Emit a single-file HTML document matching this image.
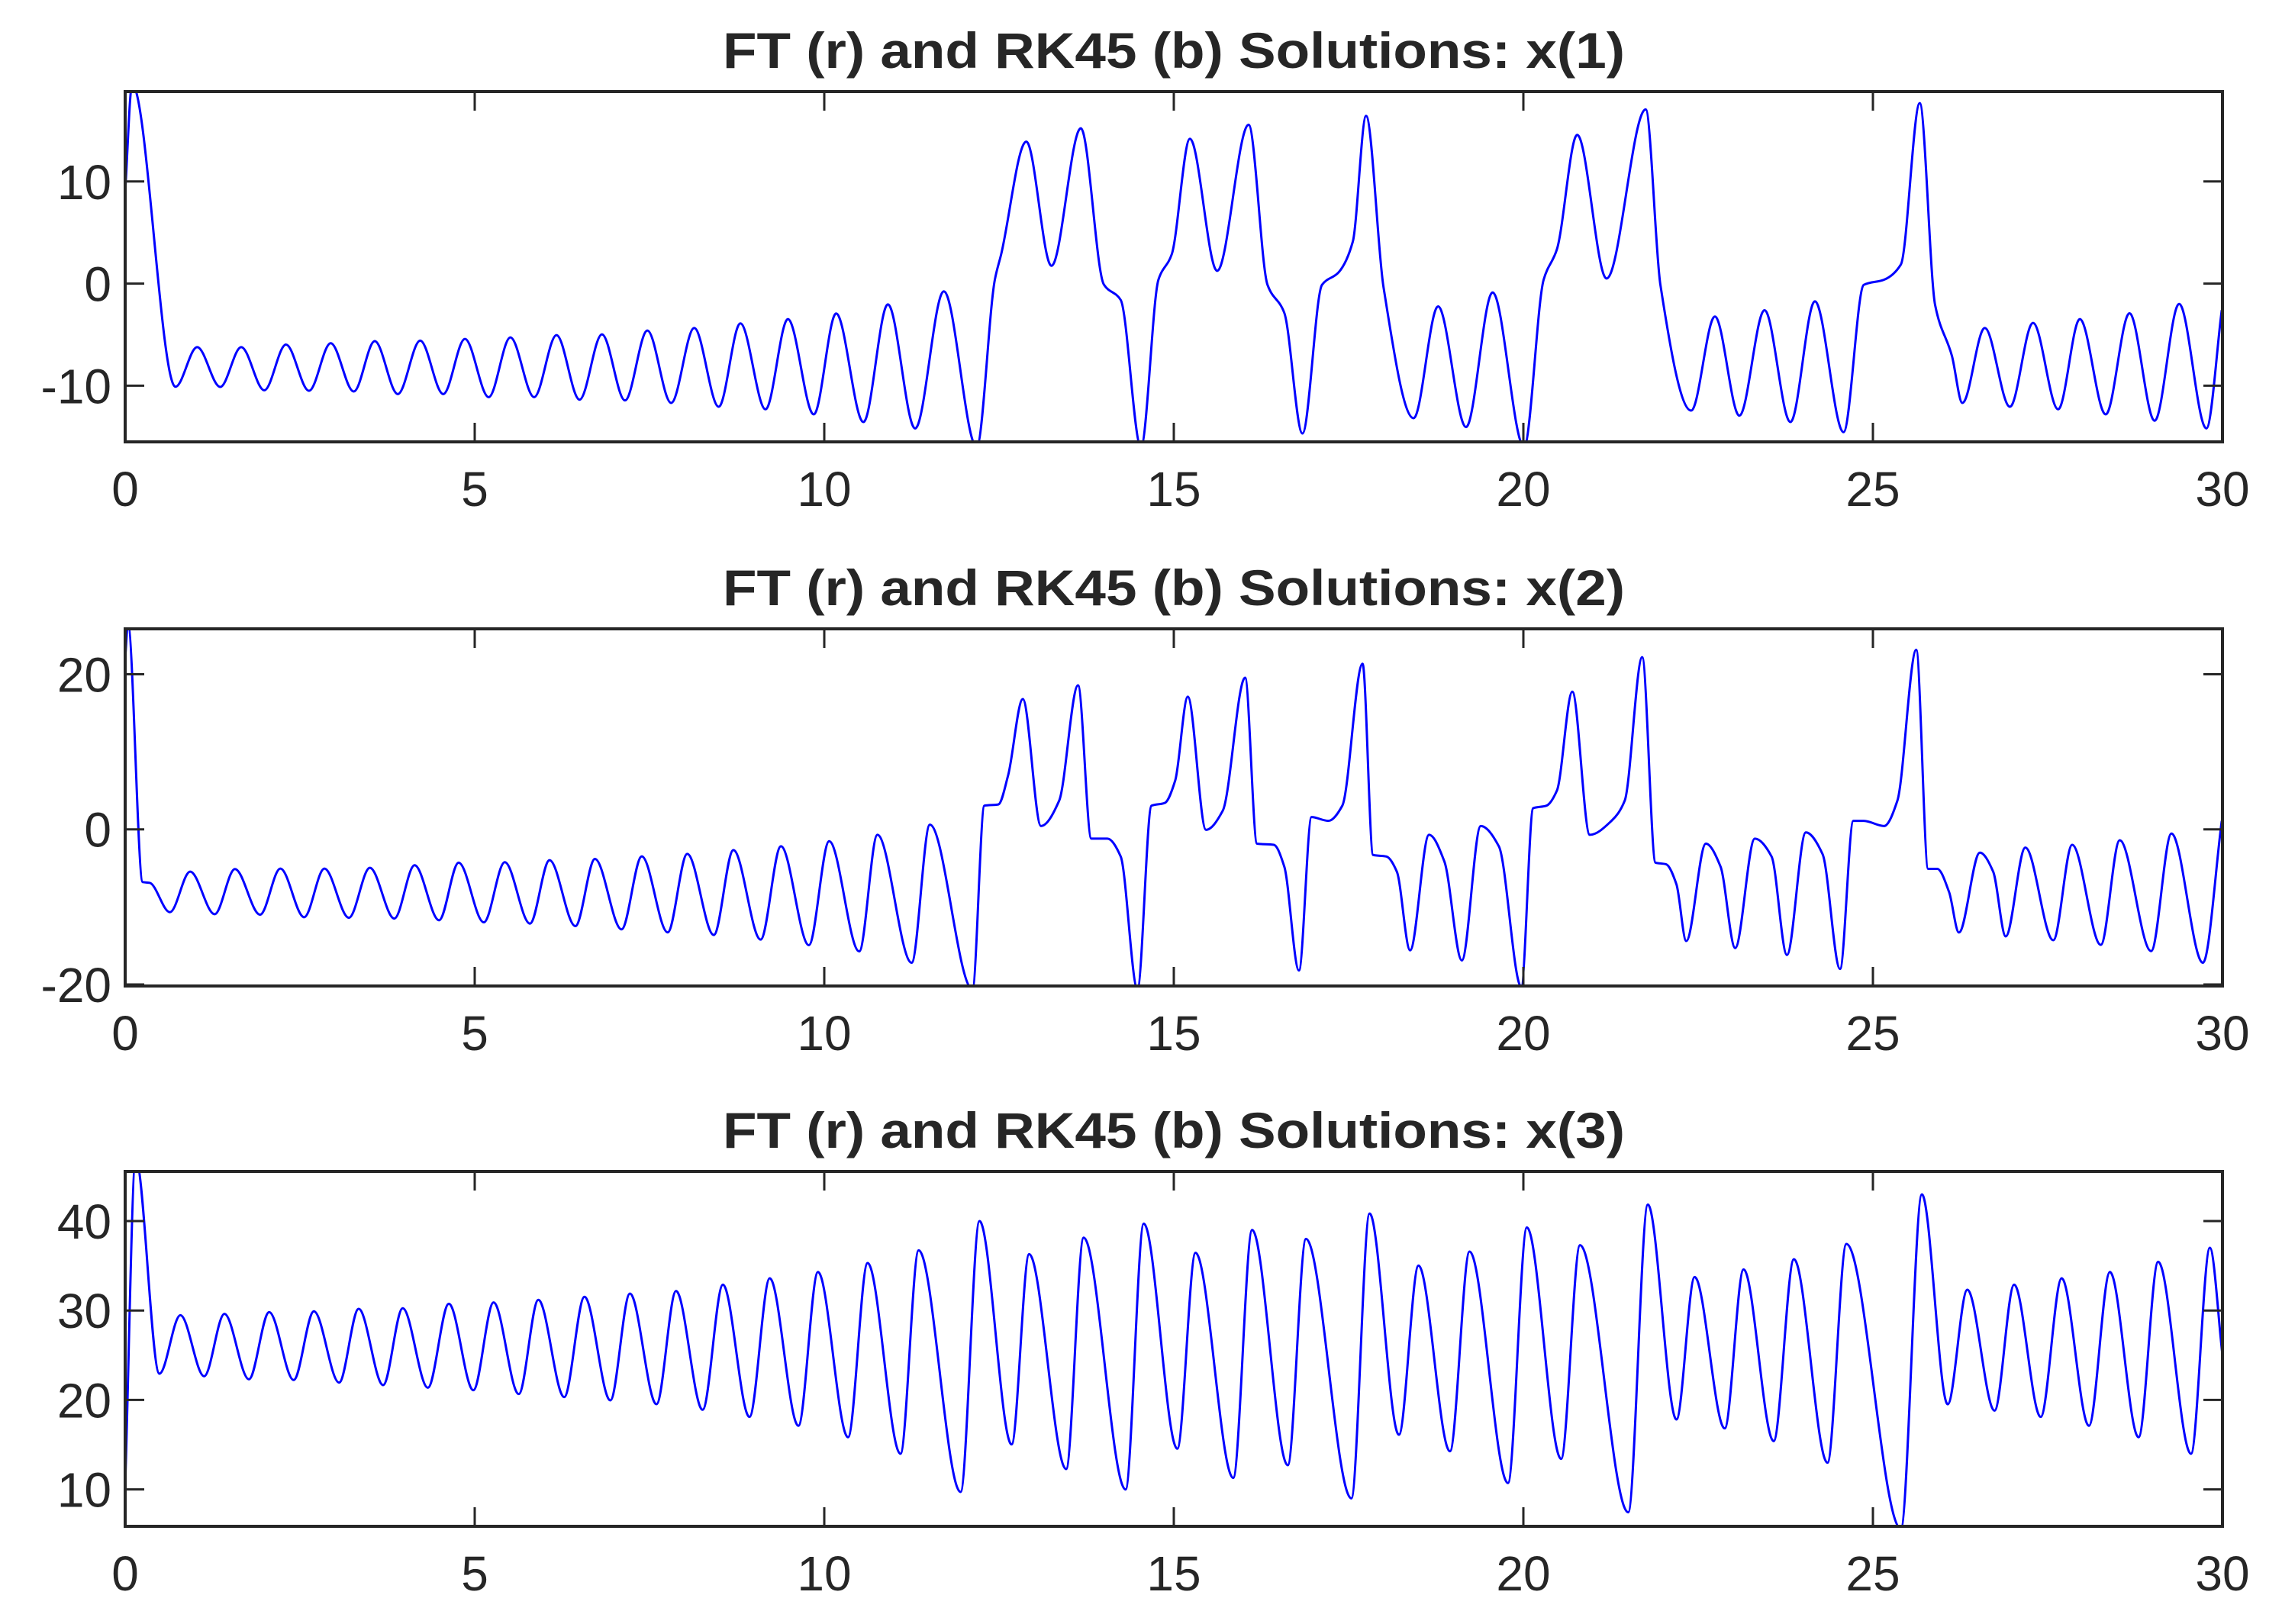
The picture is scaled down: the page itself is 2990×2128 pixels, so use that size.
<!DOCTYPE html>
<html><head><meta charset="utf-8"><style>
html,body{margin:0;padding:0;background:#fff;}
svg{display:block;}
text{font-family:"Liberation Sans",Arial,sans-serif;fill:#262626;}
</style></head><body>
<svg id="fig" width="2990" height="2128" viewBox="0 0 2990 2128" xmlns="http://www.w3.org/2000/svg"></svg>
<script>
// ---- data: x(1) ----
const times1 = [0,0.1,0.72,1.03,1.36,1.66,1.99,2.30,2.63,2.94,3.27,3.57,3.90,4.22,4.55,4.86,5.20,5.51,5.85,6.17,6.50,6.82,7.15,7.47,7.81,8.14,8.49,8.80,9.16,9.48,9.85,10.17,10.56,10.91,11.30,11.71,12.18,12.44,12.53,12.89,13.25,13.67,14.0,14.24,14.53,14.78,14.97,15.23,15.62,16.07,16.34,16.58,16.84,17.12,17.36,17.56,17.75,18.0,18.43,18.78,19.18,19.56,20.01,20.29,20.48,20.77,21.19,21.75,21.96,22.4,22.74,23.09,23.45,23.82,24.17,24.58,24.87,25.16,25.4,25.67,25.89,26.13,26.28,26.6,26.96,27.29,27.65,27.96,28.33,28.67,29.03,29.38,29.77,29.99];
const values1 = [9,19.5,-10.1,-6.22,-10.12,-6.22,-10.45,-5.97,-10.5,-5.84,-10.57,-5.64,-10.82,-5.59,-10.82,-5.42,-11.12,-5.27,-11.12,-5.05,-11.37,-4.97,-11.44,-4.6,-11.69,-4.35,-12.06,-3.9,-12.31,-3.48,-12.81,-2.93,-13.56,-2.04,-14.18,-0.76,-16,0.38,2.86,13.9,1.74,15.2,-0.1,-1.6,-16,0.38,2.86,14.18,1.25,15.55,-0.12,-2.86,-14.68,-0.12,1.12,4.1,16.42,-0.37,-13.18,-2.24,-14.05,-0.87,-16,0.38,3.36,14.56,0.5,17.05,-0.12,-12.44,-3.23,-12.93,-2.61,-13.56,-1.74,-14.55,-0.12,0.38,1.87,17.67,-2.11,-7.08,-11.69,-4.35,-12.06,-3.85,-12.31,-3.48,-12.81,-2.91,-13.43,-1.99,-14.18,-2.6];
// ---- data: x(2) ----
const times2 = [0,0.04,0.25,0.35,0.64,0.93,1.28,1.57,1.93,2.22,2.56,2.85,3.2,3.5,3.85,4.14,4.49,4.77,5.13,5.43,5.79,6.07,6.44,6.72,7.10,7.39,7.76,8.04,8.42,8.7,9.09,9.38,9.78,10.07,10.5,10.76,11.25,11.51,12.12,12.29,12.49,12.63,12.84,13.1,13.36,13.63,13.82,14.05,14.24,14.48,14.68,14.87,15.02,15.2,15.46,15.7,16.02,16.19,16.43,16.58,16.79,16.97,17.21,17.41,17.7,17.85,18.04,18.19,18.38,18.65,18.87,19.12,19.39,19.65,19.97,20.14,20.33,20.48,20.7,20.95,21.26,21.45,21.7,21.89,22.04,22.19,22.33,22.61,22.82,23.03,23.31,23.55,23.77,24.04,24.28,24.53,24.72,24.87,25.16,25.35,25.62,25.79,25.92,26.09,26.23,26.53,26.72,26.9,27.18,27.58,27.85,28.26,28.53,28.98,29.27,29.72,29.99];
const values2 = [22,26.5,-6.8,-6.9,-10.68,-5.45,-10.94,-5.12,-11.0,-5.06,-11.33,-5.06,-11.4,-4.96,-11.5,-4.63,-11.72,-4.3,-11.99,-4.24,-12.15,-3.98,-12.48,-3.82,-12.9,-3.49,-13.29,-3.16,-13.62,-2.67,-14.21,-2.18,-14.93,-1.53,-15.74,-0.71,-17.2,0.6,-20.6,3.05,3.21,6.97,16.8,0.43,3.7,18.57,-1.2,-1.2,-3.5,-20.6,3.05,3.4,6.3,17.1,-0.06,2.4,19.55,-1.85,-2.0,-4.8,-18.2,1.58,1.09,3.05,21.35,-3.3,-3.5,-5.45,-15.6,-0.71,-4.14,-16.9,0.43,-2.2,-20.3,2.72,3.05,5.0,17.75,-0.71,1.09,3.7,22.2,-4.3,-4.5,-7.1,-14.4,-1.85,-4.8,-15.3,-1.2,-3.5,-16.2,-0.4,-3.2,-18.0,1.09,1.09,0.43,3.7,23.15,-5.1,-5.1,-8.1,-13.3,-3.0,-5.45,-13.8,-2.35,-14.3,-2.0,-14.9,-1.4,-15.7,-0.55,-17.2,1.1];
// ---- data: x(3) ----
const times3 = [0,0.15,0.49,0.79,1.13,1.42,1.77,2.06,2.41,2.7,3.06,3.34,3.69,3.97,4.33,4.63,4.98,5.27,5.63,5.91,6.28,6.57,6.94,7.22,7.6,7.88,8.26,8.55,8.93,9.22,9.63,9.91,10.34,10.62,11.09,11.35,11.95,12.22,12.68,12.93,13.46,13.71,14.31,14.57,15.05,15.31,15.85,16.12,16.63,16.89,17.54,17.8,18.22,18.5,18.95,19.23,19.78,20.05,20.54,20.81,21.5,21.78,22.19,22.45,22.88,23.15,23.58,23.87,24.35,24.62,25.4,25.7,26.07,26.35,26.74,27.02,27.4,27.7,28.09,28.39,28.8,29.08,29.55,29.82,30];
const values3 = [10.4,47,22.94,29.48,22.65,29.62,22.31,29.82,22.23,29.91,21.94,30.19,21.66,30.25,21.37,30.76,21.09,30.9,20.66,31.19,20.32,31.53,19.95,31.9,19.52,32.18,18.9,32.89,18.1,33.6,17.11,34.31,15.83,35.31,13.98,36.73,9.71,40.0,15.03,36.3,12.27,38.15,9.99,39.72,14.55,36.45,11.28,39.01,12.7,38.01,9.0,40.85,16.11,35.02,14.26,36.59,10.71,39.29,13.41,37.3,7.44,41.85,17.82,33.74,16.82,34.6,15.4,35.74,12.98,37.44,5.6,42.99,19.52,32.32,18.81,32.89,18.1,33.6,17.11,34.31,15.83,35.45,13.98,37.02,25];
// ---- axis config ----
const xTicks = [0,5,10,15,20,25,30];
const yTicks1 = [-10,0,10];
const yTicks2 = [-20,0,20];
const yTicks3 = [10,20,30,40];
const titles = ["FT (r) and RK45 (b) Solutions: x(1)","FT (r) and RK45 (b) Solutions: x(2)","FT (r) and RK45 (b) Solutions: x(3)"];

const NS = "http://www.w3.org/2000/svg";
const svg = document.getElementById('fig');
function mk(tag, attrs, parent){
  const e = document.createElementNS(NS, tag);
  for (const k in attrs) e.setAttribute(k, attrs[k]);
  (parent||svg).appendChild(e);
  return e;
}
const X0 = 164, X1 = 2912;
const panels = [
  {top:120, bottom:579, ymin:-15.5, ymax:18.8, t:times1, v:values1, ticks:yTicks1},
  {top:824, bottom:1292, ymin:-20.2, ymax:25.85, t:times2, v:values2, ticks:yTicks2},
  {top:1535, bottom:2000, ymin:5.87, ymax:45.55, t:times3, v:values3, ticks:yTicks3}
];

function monotonePath(ts, vs, sx, sy){
  const n = ts.length, d = [], m = new Array(n);
  for (let i=0;i<n-1;i++) d.push((vs[i+1]-vs[i])/(ts[i+1]-ts[i]));
  m[0]=d[0]; m[n-1]=d[n-2];
  for (let i=1;i<n-1;i++){
    if (d[i-1]*d[i] <= 0) m[i]=0;
    else { const h0=ts[i]-ts[i-1], h1=ts[i+1]-ts[i];
      const w1=2*h1+h0, w2=h1+2*h0; m[i]=(w1+w2)/(w1/d[i-1]+w2/d[i]); }
  }
  let p = "M"+sx(ts[0]).toFixed(2)+","+sy(vs[0]).toFixed(2);
  for (let i=0;i<n-1;i++){
    const h=ts[i+1]-ts[i];
    p += " C"+sx(ts[i]+h/3).toFixed(2)+","+sy(vs[i]+m[i]*h/3).toFixed(2)+" "+
         sx(ts[i+1]-h/3).toFixed(2)+","+sy(vs[i+1]-m[i+1]*h/3).toFixed(2)+" "+
         sx(ts[i+1]).toFixed(2)+","+sy(vs[i+1]).toFixed(2);
  }
  return p;
}

panels.forEach((P, k) => {
  const sx = t => X0 + (t-0)/(30-0)*(X1-X0);
  const sy = v => P.bottom - (v-P.ymin)/(P.ymax-P.ymin)*(P.bottom-P.top);
  const g = mk('g', {});
  
  
  const cp = mk('clipPath', {id:'clip'+k}, g);
  mk('rect', {x:X0, y:P.top, width:X1-X0, height:P.bottom-P.top}, cp);
  mk('rect', {x:X0, y:P.top, width:X1-X0, height:P.bottom-P.top, fill:'#fff'}, g);
  // line
  const line = mk('path', {d:monotonePath(P.t, P.v, sx, sy), fill:'none', stroke:'#0000ff', 'stroke-width':3, 'clip-path':'url(#clip'+k+')', 'stroke-linejoin':'round'}, g);
  
  
  // frame
  const fr = mk('rect', {x:X0, y:P.top, width:X1-X0, height:P.bottom-P.top, fill:'none', stroke:'#262626', 'stroke-width':4}, g);
  
  
  // x ticks
  xTicks.forEach(xt => {
    const x = sx(xt);
    mk('line', {x1:x, x2:x, y1:P.bottom, y2:P.bottom-25, stroke:'#262626', 'stroke-width':3}, g);
    mk('line', {x1:x, x2:x, y1:P.top, y2:P.top+25, stroke:'#262626', 'stroke-width':3}, g);
    const tx = mk('text', {x:x, y:P.bottom+84, 'font-size':64, 'text-anchor':'middle'}, g);
    tx.textContent = xt;
    
    
  });
  // y ticks
  P.ticks.forEach(yt => {
    const y = sy(yt);
    mk('line', {x1:X0, x2:X0+25, y1:y, y2:y, stroke:'#262626', 'stroke-width':3}, g);
    mk('line', {x1:X1, x2:X1-25, y1:y, y2:y, stroke:'#262626', 'stroke-width':3}, g);
    const ty = mk('text', {x:X0-18, y:y+23, 'font-size':64, 'text-anchor':'end'}, g);
    ty.textContent = yt;
    
    
  });
  // title
  const tt = mk('text', {x:(X0+X1)/2, y:P.top-31, 'font-size':66, 'font-weight':'bold', 'text-anchor':'middle', textLength:1182, lengthAdjust:'spacingAndGlyphs', fill:'#000'}, g);
  tt.textContent = titles[k];
  
  
});
</script>
</body></html>
